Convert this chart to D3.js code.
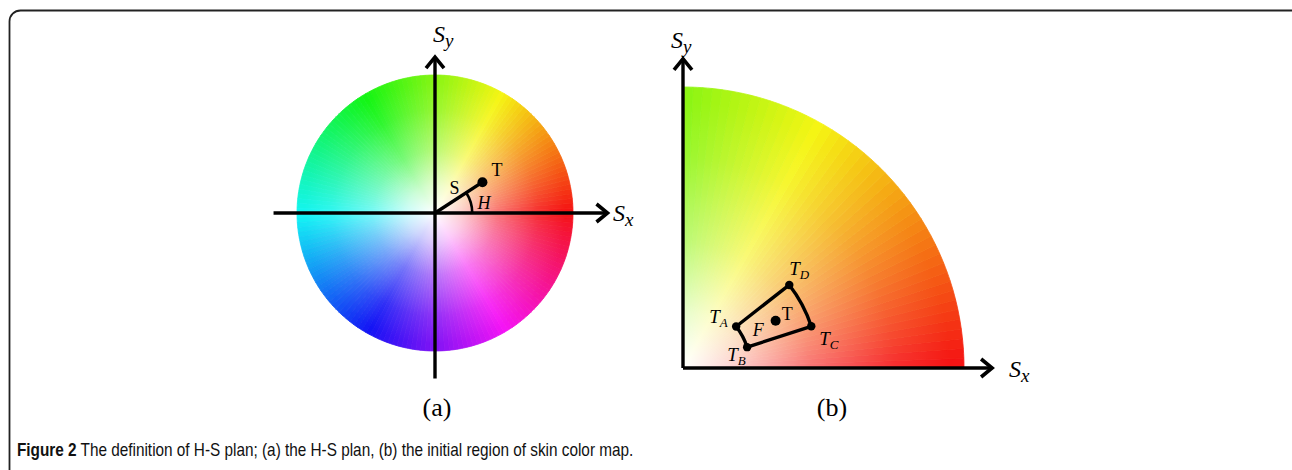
<!DOCTYPE html>
<html>
<head>
<meta charset="utf-8">
<script src="https://cdn.jsdelivr.net/npm/d3@7"></script>
<style>
  body { margin: 0; background: #fff; }
  svg { display: block; }
</style>
</head>
<body>
<div id="figure"></div>
<script>
var svgWidth = 1292;
var svgHeight = 470;

// hue wheel: hue in degrees, measured counter-clockwise from +Sx
var hueDomain = [0, 360];
var quarterHueDomain = [0, 90];
var hueStep = 2;

// panel (a): point T on the H-S plane
var pointT = [33, 0.41];          // [hue, saturation]
var arcHRadius = 0.27;            // radius of the H angle mark (saturation units)

// panel (b): initial skin colour region
var regionHue = [18, 38];
var regionSat = [0.24, 0.48];
var regionT = [27, 0.37];
var cornerNames = ["A", "B", "C", "D"];
var cornerHue = [38, 18, 18, 38];
var cornerSat = [0.24, 0.24, 0.48, 0.48];

var panelLabels = ["(a)", "(b)"];
var captionBold = "Figure 2";
var captionText = " The definition of H-S plan; (a) the H-S plan, (b) the initial region of skin color map.";

var svg = d3.select("#figure")
  .append("svg")
  .attr("width", svgWidth)
  .attr("height", svgHeight);

var defs = svg.append("defs");

// frame
svg.append("rect")
  .attr("x", 9.5)
  .attr("y", 10.5)
  .attr("width", 1310)
  .attr("height", 520)
  .attr("rx", 11)
  .attr("fill", "none")
  .attr("stroke", "#222")
  .attr("stroke-width", 1.8);

var rad = d => d * Math.PI / 180;

// white centre fading out towards the rim (gradient in the wheel's own translated space)
function whiteFade(id, r) {
  var g = defs.append("radialGradient")
    .attr("id", id)
    .attr("gradientUnits", "userSpaceOnUse")
    .attr("cx", 0).attr("cy", 0).attr("r", r);
  [[0, 1], [0.2, 0.78], [0.45, 0.42], [0.75, 0.12], [0.95, 0]].forEach(function(s) {
    g.append("stop")
      .attr("offset", s[0])
      .attr("stop-color", "#fff")
      .attr("stop-opacity", s[1]);
  });
}

function drawWheel(g, cx, cy, R, domain, id) {
  var hues = d3.range(domain[0], domain[1], hueStep);
  var arc = d3.arc().innerRadius(0).outerRadius(R);
  var w = g.append("g")
    .attr("transform", `translate(${cx},${cy})`);
  w.selectAll("path.hue")
    .data(hues)
    .enter()
    .append("path")
    .attr("class", "hue")
    .attr("d", h => arc({
      startAngle: Math.PI / 2 - rad(h + hueStep),
      endAngle: Math.PI / 2 - rad(h)
    }))
    .attr("fill", h => d3.hsl(h, 0.92, 0.52))
    .attr("stroke", h => d3.hsl(h, 0.92, 0.52))
    .attr("stroke-width", 0.8);
  whiteFade(id, R);
  w.append("path")
    .attr("d", arc({startAngle: Math.PI / 2 - rad(domain[1]), endAngle: Math.PI / 2 - rad(domain[0])}))
    .attr("fill", `url(#${id})`);
}

function arrowAxis(g, x1, y1, x2, y2) {
  g.append("line")
    .attr("x1", x1).attr("y1", y1)
    .attr("x2", x2).attr("y2", y2)
    .attr("stroke", "#000")
    .attr("stroke-width", 3.4);
  var a = Math.atan2(y2 - y1, x2 - x1);
  var len = 11, half = 9;
  var bx = x2 - len * Math.cos(a), by = y2 - len * Math.sin(a);
  var px = -Math.sin(a) * half, py = Math.cos(a) * half;
  g.append("path")
    .attr("d", `M${bx + px},${by + py}L${x2},${y2}L${bx - px},${by - py}`)
    .attr("fill", "none")
    .attr("stroke", "#000")
    .attr("stroke-width", 3.6)
    .attr("stroke-linejoin", "miter");
}

function axisLabel(g, x, y, sub) {
  var t = g.append("text")
    .attr("x", x).attr("y", y)
    .attr("font-family", "'Liberation Serif', 'DejaVu Serif', serif")
    .attr("font-style", "italic")
    .attr("font-size", 24);
  t.append("tspan").text("S");
  t.append("tspan").attr("font-size", 19).attr("dy", 5).text(sub);
}

// ---------- panel (a): H-S plane ----------
var gA = svg.append("g");
var ax = d3.scaleLinear().domain([-1, 1]).range([297, 573]);
var ay = d3.scaleLinear().domain([-1, 1]).range([351, 75]);
var aR = ax(1) - ax(0);

drawWheel(gA, ax(0), ay(0), aR, hueDomain, "fadeA");

arrowAxis(gA, ax(-1.17), ay(0), ax(1.25), ay(0));
arrowAxis(gA, ax(0), ay(-1.20), ax(0), ay(1.13));
axisLabel(gA, ax(1.29), ay(0) + 8, "x");
axisLabel(gA, ax(0) - 2, ay(1.24), "y");

var polar = function(xs, ys, hs) {
  return [xs(hs[1] * Math.cos(rad(hs[0]))), ys(hs[1] * Math.sin(rad(hs[0])))];
};

var tA = polar(ax, ay, pointT);
gA.append("line")
  .attr("x1", ax(0)).attr("y1", ay(0))
  .attr("x2", tA[0]).attr("y2", tA[1])
  .attr("stroke", "#000")
  .attr("stroke-width", 3.4);
gA.append("circle")
  .attr("cx", tA[0]).attr("cy", tA[1])
  .attr("r", 5)
  .attr("fill", "#000");

var hArc = d3.arc().innerRadius(arcHRadius * aR).outerRadius(arcHRadius * aR);
gA.append("path")
  .attr("transform", `translate(${ax(0)},${ay(0)})`)
  .attr("d", hArc({startAngle: Math.PI / 2 - rad(pointT[0]), endAngle: Math.PI / 2}))
  .attr("fill", "none")
  .attr("stroke", "#000")
  .attr("stroke-width", 2.6);

var serif = "'Liberation Serif', 'DejaVu Serif', serif";
gA.append("text")
  .attr("x", tA[0] + 9).attr("y", tA[1] - 6)
  .attr("font-family", serif).attr("font-size", 18)
  .text("T");
gA.append("text")
  .attr("x", tA[0] - 33).attr("y", tA[1] + 12)
  .attr("font-family", serif).attr("font-size", 18)
  .text("S");
gA.append("text")
  .attr("x", tA[0] - 5).attr("y", tA[1] + 27)
  .attr("font-family", serif).attr("font-size", 18)
  .attr("font-style", "italic")
  .text("H");

// ---------- panel (b): initial skin colour region ----------
var gB = svg.append("g");
var bx = d3.scaleLinear().domain([0, 1]).range([683, 964]);
var by = d3.scaleLinear().domain([0, 1]).range([368, 87]);
var bR = bx(1) - bx(0);

drawWheel(gB, bx(0), by(0), bR, quarterHueDomain, "fadeB");

arrowAxis(gB, bx(0), by(0), bx(1.10), by(0));
arrowAxis(gB, bx(0), by(0), bx(0), by(1.10));
axisLabel(gB, bx(1.16), by(0) + 9, "x");
axisLabel(gB, bx(0) - 12, by(1.14), "y");

var region = d3.arc()
  .innerRadius(regionSat[0] * bR)
  .outerRadius(regionSat[1] * bR)
  .startAngle(Math.PI / 2 - rad(regionHue[1]))
  .endAngle(Math.PI / 2 - rad(regionHue[0]));
gB.append("path")
  .attr("transform", `translate(${bx(0)},${by(0)})`)
  .attr("d", region())
  .attr("fill", "none")
  .attr("stroke", "#000")
  .attr("stroke-width", 3.4)
  .attr("stroke-linejoin", "round");

var corners = cornerNames.map(function(n, i) {
  var p = polar(bx, by, [cornerHue[i], cornerSat[i]]);
  return {name: n, x: p[0], y: p[1]};
});
gB.selectAll("circle.corner")
  .data(corners)
  .enter()
  .append("circle")
  .attr("class", "corner")
  .attr("cx", d => d.x).attr("cy", d => d.y)
  .attr("r", 4.2)
  .attr("fill", "#000");

var labelOffset = {A: [-27, -3], B: [-20, 14], C: [8, 19], D: [0, -10]};
var cornerLabels = gB.selectAll("text.corner")
  .data(corners)
  .enter()
  .append("text")
  .attr("class", "corner")
  .attr("x", d => d.x + labelOffset[d.name][0])
  .attr("y", d => d.y + labelOffset[d.name][1])
  .attr("font-family", serif)
  .attr("font-style", "italic")
  .attr("font-size", 19);
cornerLabels.append("tspan").text("T");
cornerLabels.append("tspan")
  .attr("font-size", 13)
  .attr("dy", 4)
  .text(d => d.name);

var tB = polar(bx, by, regionT);
gB.append("circle")
  .attr("cx", tB[0]).attr("cy", tB[1])
  .attr("r", 5)
  .attr("fill", "#000");
gB.append("text")
  .attr("x", tB[0] + 6).attr("y", tB[1] - 1)
  .attr("font-family", serif).attr("font-size", 18)
  .text("T");
gB.append("text")
  .attr("x", tB[0] - 23).attr("y", tB[1] + 15)
  .attr("font-family", serif).attr("font-size", 18)
  .attr("font-style", "italic")
  .text("F");

// panel letters
svg.selectAll("text.panel")
  .data(panelLabels)
  .enter()
  .append("text")
  .attr("class", "panel")
  .attr("x", (d, i) => i === 0 ? ax(0) + 2 : bx(0.53))
  .attr("y", 416)
  .attr("text-anchor", "middle")
  .attr("font-family", serif)
  .attr("font-size", 26)
  .text(d => d);

// caption
var caption = svg.append("text")
  .attr("font-family", "'Liberation Sans Narrow', 'Liberation Sans', 'Open Sans', sans-serif")
  .attr("font-size", 17.5)
  .attr("fill", "#111");
caption.append("tspan").attr("font-weight", "bold").text(captionBold);
caption.append("tspan").text(captionText);
var cw = caption.node().getComputedTextLength();
caption.attr("transform", `translate(17,456) scale(${617 / cw},1)`);
</script>
</body>
</html>
